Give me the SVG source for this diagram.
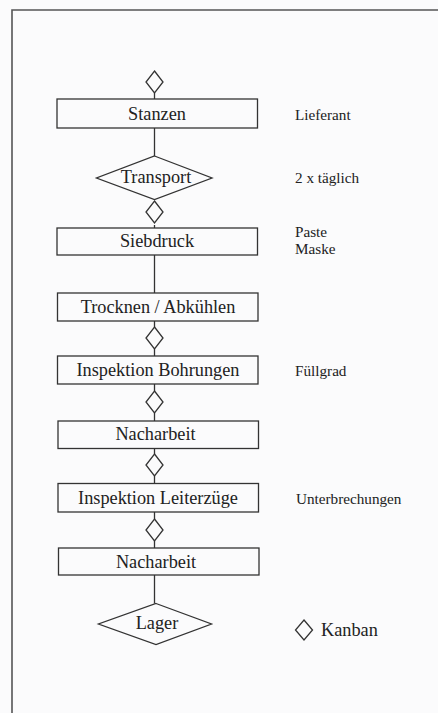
<svg xmlns="http://www.w3.org/2000/svg" width="438" height="713" viewBox="0 0 438 713">
<style>
.bg{fill:#fbfbfc}
.frame{fill:none;stroke:#555;stroke-width:1.6}
.box{fill:#fbfbfc;stroke:#333;stroke-width:1.3}
.dia{fill:#fbfbfc;stroke:#333;stroke-width:1.3;stroke-linejoin:miter}
.con{stroke:#333;stroke-width:1.3;fill:none}
.lbl{font-family:"Liberation Serif","Times New Roman",serif;font-size:18.3px;fill:#222;text-anchor:middle}
.note{font-family:"Liberation Serif","Times New Roman",serif;font-size:15.2px;fill:#222}
</style>
<defs>
<polygon id="kb" points="0,-11 8.5,0 0,11 -8.5,0"/>
</defs>
<rect class="bg" x="0" y="0" width="438" height="713"/>
<path class="frame" d="M12,713 V10 H438"/>
<g id="connectors">
<line class="con" x1="154.5" y1="93" x2="154.5" y2="99"/>
<line class="con" x1="154.5" y1="128" x2="154.5" y2="156"/>
<line class="con" x1="154.5" y1="225" x2="154.5" y2="228"/>
<line class="con" x1="154.5" y1="255" x2="154.5" y2="293"/>
<line class="con" x1="154.5" y1="321" x2="154.5" y2="327"/>
<line class="con" x1="154.5" y1="349" x2="154.5" y2="356"/>
<line class="con" x1="154.5" y1="384" x2="154.5" y2="391"/>
<line class="con" x1="154.5" y1="413" x2="154.5" y2="421"/>
<line class="con" x1="154.5" y1="448" x2="154.5" y2="454"/>
<line class="con" x1="154.5" y1="476" x2="154.5" y2="483"/>
<line class="con" x1="154.5" y1="512" x2="154.5" y2="519"/>
<line class="con" x1="154.5" y1="541" x2="154.5" y2="548"/>
<line class="con" x1="154.5" y1="575" x2="154.5" y2="603.5"/>
</g>
<g id="kanban1"><use href="#kb" class="dia" x="154.5" y="82"/></g>
<g id="stanzen">
<rect class="box" x="57" y="99" width="200.5" height="29"/>
<text class="lbl" x="157" y="119.5">Stanzen</text>
</g>
<g id="transport">
<polygon class="dia" points="154.5,156 212,178 154.5,199.5 96.5,178"/>
<text class="lbl" x="156" y="183">Transport</text>
</g>
<g id="kanban2"><use href="#kb" class="dia" x="154.5" y="212"/></g>
<g id="siebdruck">
<rect class="box" x="57" y="228" width="200.5" height="27"/>
<text class="lbl" x="157" y="247">Siebdruck</text>
</g>
<g id="trocknen">
<rect class="box" x="57.5" y="293" width="200.5" height="28"/>
<text class="lbl" x="158" y="312.5">Trocknen / Abkühlen</text>
</g>
<g id="kanban3"><use href="#kb" class="dia" x="154.5" y="338"/></g>
<g id="inspektion_bohrungen">
<rect class="box" x="57.5" y="356" width="200.5" height="28"/>
<text class="lbl" x="158" y="375.5">Inspektion Bohrungen</text>
</g>
<g id="kanban4"><use href="#kb" class="dia" x="154.5" y="402"/></g>
<g id="nacharbeit1">
<rect class="box" x="58" y="421" width="200.5" height="27.5"/>
<text class="lbl" x="155.5" y="440">Nacharbeit</text>
</g>
<g id="kanban5"><use href="#kb" class="dia" x="154.5" y="465"/></g>
<g id="inspektion_leiterzuege">
<rect class="box" x="58" y="483.5" width="200.5" height="28.5"/>
<text class="lbl" x="158" y="504">Inspektion Leiterzüge</text>
</g>
<g id="kanban6"><use href="#kb" class="dia" x="154.5" y="530"/></g>
<g id="nacharbeit2">
<rect class="box" x="58.5" y="548" width="200.5" height="27"/>
<text class="lbl" x="156" y="568">Nacharbeit</text>
</g>
<g id="lager">
<polygon class="dia" points="156,603.5 211.5,624 156,644.5 98.5,624"/>
<text class="lbl" x="157" y="628.5">Lager</text>
</g>
<g id="notes">
<text class="note" x="295" y="120">Lieferant</text>
<text class="note" x="295" y="183">2 x täglich</text>
<text class="note" x="295" y="237">Paste</text>
<text class="note" x="295" y="254">Maske</text>
<text class="note" x="295" y="375.5">Füllgrad</text>
<text class="note" x="296" y="504">Unterbrechungen</text>
</g>
<g id="legend">
<polygon class="dia" points="304,620 312.5,630 304,640 295.5,630"/>
<text class="note" x="321" y="635.5" style="font-size:18.3px">Kanban</text>
</g>
</svg>
